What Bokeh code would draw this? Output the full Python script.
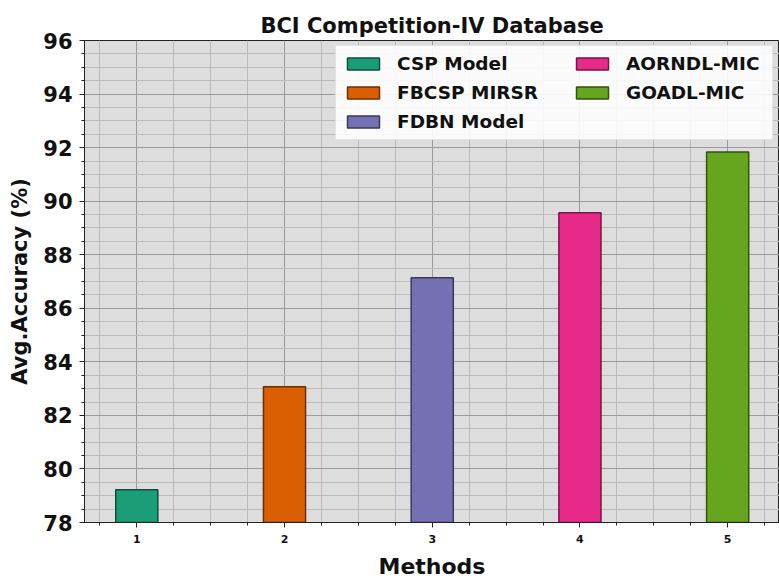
from bokeh.plotting import figure
from bokeh.models import ColumnDataSource, FixedTicker, SingleIntervalTicker, Range1d, Legend, LegendItem
from bokeh.embed import file_html
from bokeh.resources import INLINE

methods = [1, 2, 3, 4, 5]
accuracy = [79.22, 83.07, 87.14, 89.57, 91.84]
labels = ["CSP Model", "FBCSP MIRSR", "FDBN Model", "AORNDL-MIC", "GOADL-MIC"]
colors = ["#1b9e77", "#d95f02", "#7570b3", "#e7298a", "#66a61e"]
edge_colors = ["#0e4f3c", "#6d3001", "#3b385a", "#741545", "#335310"]
x_ticks = [1, 2, 3, 4, 5]
x_minor = [0.75, 1.25, 1.5, 1.75, 2.25, 2.5, 2.75, 3.25, 3.5, 3.75, 4.25, 4.5, 4.75, 5.25]

FONT = "DejaVu Sans"
BLACK = "#111111"

src = ColumnDataSource(dict(x=methods, top=accuracy, color=colors, edge=edge_colors))

p = figure(width=779, height=581, output_backend="svg", toolbar_location=None,
           x_range=Range1d(0.646, 5.351), y_range=Range1d(78, 96),
           min_border_left=84, min_border_right=0, min_border_top=40, min_border_bottom=59,
           title="BCI Competition-IV Database")

r = p.vbar(x="x", top="top", bottom=0, width=0.285, fill_color="color", line_color="edge",
           line_width=1.5, source=src)

p.background_fill_color = "#dddddd"
p.border_fill_color = "white"
p.outline_line_color = "#222222"
p.outline_line_width = 1

p.title.text_font = FONT
p.title.text_font_style = "bold"
p.title.text_font_size = "21px"
p.title.text_color = BLACK
p.title.align = "center"
p.title.standoff = 6

p.xaxis.ticker = FixedTicker(ticks=x_ticks, minor_ticks=x_minor)
p.yaxis.ticker = SingleIntervalTicker(interval=2, num_minor_ticks=4)

for ax in (p.xaxis[0], p.yaxis[0]):
    ax.axis_line_color = "#222222"
    ax.major_tick_line_color = "#222222"
    ax.minor_tick_line_color = "#222222"
    ax.major_label_text_font = FONT
    ax.major_label_text_font_style = "bold"
    ax.major_label_text_color = BLACK
    ax.axis_label_text_font = FONT
    ax.axis_label_text_font_style = "bold"
    ax.axis_label_text_color = BLACK
    ax.major_tick_out = 5
    ax.major_tick_in = 0
    ax.minor_tick_out = 3
    ax.minor_tick_in = 0

p.xaxis.axis_label = "Methods"
p.xaxis.axis_label_text_font_size = "22px"
p.xaxis.major_label_text_font_size = "11px"
p.xaxis.major_label_standoff = 7
p.xaxis.axis_label_standoff = 8
p.yaxis.axis_label = "Avg.Accuracy (%)"
p.yaxis.axis_label_text_font_size = "21px"
p.yaxis.major_label_text_font_size = "21px"
p.yaxis.major_label_standoff = 7
p.yaxis.axis_label_standoff = 8

p.xgrid.grid_line_color = "#9a9a9a"
p.xgrid.minor_grid_line_color = "#bcbcbc"
p.ygrid.grid_line_color = "#9a9a9a"
p.ygrid.minor_grid_line_color = "#bcbcbc"


def make_legend(idx, loc, label_width, bg):
    lg = Legend(items=[LegendItem(label=labels[i], renderers=[r], index=i) for i in idx],
                location=loc)
    lg.label_text_font = FONT
    lg.label_text_font_style = "bold"
    lg.label_text_font_size = "18.5px"
    lg.label_text_color = BLACK
    lg.label_height = 20
    lg.label_width = label_width
    lg.glyph_width = 40
    lg.glyph_height = 15
    lg.label_standoff = 14
    lg.spacing = 8
    lg.margin = 0
    lg.padding = 7
    if bg:
        lg.background_fill_color = "white"
        lg.background_fill_alpha = 0.88
        lg.border_line_color = "#cccccc"
    else:
        lg.background_fill_alpha = 0
        lg.border_line_alpha = 0
    return lg


leg1 = make_legend([0, 1, 2], (251, 382), 368, True)
leg2 = make_legend([3, 4], (481, 412), 100, False)
p.add_layout(leg1)
p.add_layout(leg2)

open("out.html", "w").write(file_html(p, INLINE))
